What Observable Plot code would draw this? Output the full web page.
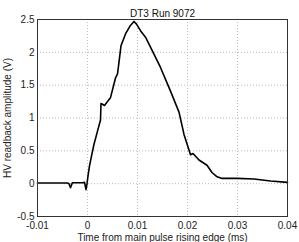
<!DOCTYPE html>
<html>
<head>
<meta charset="utf-8">
<script src="https://cdn.jsdelivr.net/npm/d3@7"></script>
<script src="https://cdn.jsdelivr.net/npm/@observablehq/plot@0.6"></script>
<style>
  html, body { margin: 0; padding: 0; background: #fff; }
  #chart svg { display: block; }
</style>
</head>
<body>
<div id="chart"></div>
<script>
const title = "DT3 Run 9072";
const xLabel = "Time from main pulse rising edge (ms)";
const yLabel = "HV readback amplitude (V)";
const xTicks = [-0.01, 0, 0.01, 0.02, 0.03, 0.04];
const yTicks = [-0.5, 0, 0.5, 1, 1.5, 2, 2.5];

const time = [-0.01, -0.006, -0.004, -0.0037, -0.0034, -0.0031, -0.003, -0.001, -0.0006, -0.0003, -0.0001, 0.0001,
  0.0004, 0.0008, 0.0013, 0.002, 0.0026, 0.0027, 0.003, 0.0034, 0.004, 0.0046, 0.0056, 0.006, 0.0063,
  0.0067, 0.0076, 0.0085, 0.0093, 0.0098, 0.0106, 0.0116, 0.0126, 0.0146, 0.0166, 0.0183, 0.0193,
  0.0206, 0.0211, 0.0223, 0.0239, 0.0249, 0.0258, 0.0269, 0.0299, 0.0333, 0.0366, 0.04];
const amplitude = [0.01, 0.01, 0.01, 0.0, -0.06, 0.0, 0.015, 0.015, 0.02, -0.09, 0.0, 0.12,
  0.27, 0.42, 0.6, 0.8, 0.97, 1.22, 1.21, 1.19, 1.25, 1.31, 1.61, 1.67, 1.85,
  2.1, 2.28, 2.4, 2.47, 2.43, 2.33, 2.23, 2.08, 1.77, 1.41, 1.09, 0.75,
  0.44, 0.46, 0.36, 0.28, 0.17, 0.11, 0.08, 0.08, 0.07, 0.04, 0.02];

const data = time.map((t, i) => ({t, v: amplitude[i]}));

const chart = Plot.plot({
  width: 299,
  height: 242,
  marginLeft: 37,
  marginRight: 12,
  marginTop: 19,
  marginBottom: 26,
  style: {fontFamily: "'Liberation Sans', Arial, sans-serif", fontSize: "10px", color: "#222", background: "#fff"},
  x: {domain: [-0.01, 0.04], ticks: xTicks, tickFormat: d => d === 0 ? "0" : String(d), grid: false},
  y: {domain: [-0.5, 2.5], ticks: yTicks, tickFormat: d => String(d)},
  marks: [
    Plot.gridX(xTicks, {stroke: "#bbb", strokeOpacity: 1, strokeDasharray: "1,2"}),
    Plot.gridY(yTicks, {stroke: "#bbb", strokeOpacity: 1, strokeDasharray: "1,2"}),
    Plot.axisX({ticks: xTicks, tickSize: 0, tickPadding: 5, tickFormat: d => d === 0 ? "0" : String(d),
      label: xLabel, labelAnchor: "center", labelArrow: "none", labelOffset: 24, fontSize: 10}),
    Plot.axisY({ticks: yTicks, tickSize: 0, tickPadding: 3, tickFormat: d => String(d),
      label: yLabel, labelAnchor: "center", labelArrow: "none", labelOffset: 34, fontSize: 10}),
    Plot.line(data, {x: "t", y: "v", stroke: "#000", strokeWidth: 1.6, curve: "linear"}),
    Plot.frame({stroke: "#333", strokeWidth: 1}),
    Plot.text([title], {frameAnchor: "top", dy: -10, text: d => d, fontSize: 10, fill: "#111"})
  ]
});
document.getElementById("chart").appendChild(chart);
</script>
</body>
</html>
